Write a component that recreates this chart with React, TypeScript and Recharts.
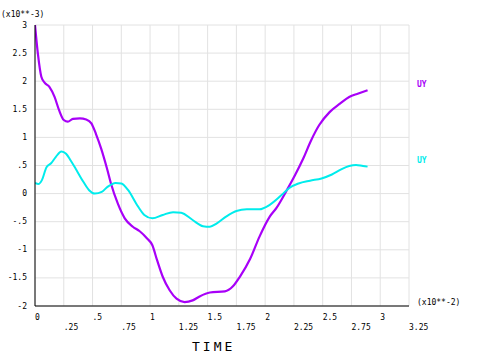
import React from 'react';
import { LineChart, Line, XAxis, YAxis, CartesianGrid } from 'recharts';

// time in units of 10**-2, displacement in units of 10**-3
const uyPurpleTime = [
  0, 0.025, 0.055, 0.085, 0.125, 0.17, 0.21, 0.25, 0.285, 0.33, 0.39, 0.445, 0.49, 0.53, 0.575, 0.625,
  0.66, 0.72, 0.78, 0.85, 0.91, 0.97, 1.02, 1.06, 1.11, 1.17, 1.23, 1.3, 1.37, 1.43, 1.52, 1.65, 1.72,
  1.78, 1.87, 1.95, 2.04, 2.1, 2.18, 2.26, 2.33, 2.4, 2.47, 2.56, 2.65, 2.73, 2.81, 2.89,
];
const uyPurpleValues = [
  3.0, 2.49, 2.08, 1.97, 1.9, 1.72, 1.48, 1.31, 1.28, 1.33, 1.34, 1.32, 1.25, 1.06, 0.8, 0.45,
  0.18, -0.18, -0.44, -0.59, -0.67, -0.79, -0.92, -1.18, -1.48, -1.72, -1.87, -1.93, -1.9, -1.83, -1.76, -1.74, -1.65,
  -1.48, -1.16, -0.77, -0.41, -0.25, 0.03, 0.33, 0.62, 0.95, 1.22, 1.45, 1.6, 1.72, 1.78, 1.84,
];

const uyCyanTime = [
  0, 0.03, 0.06, 0.1, 0.14, 0.18, 0.23, 0.27, 0.31, 0.36, 0.42, 0.47, 0.52, 0.58, 0.63, 0.7, 0.75,
  0.81, 0.88, 0.95, 1.02, 1.11, 1.2, 1.27, 1.37, 1.46, 1.52, 1.58, 1.66, 1.75, 1.84, 1.95, 2.04,
  2.14, 2.21, 2.29, 2.39, 2.49, 2.58, 2.66, 2.73, 2.79, 2.85, 2.89,
];
const uyCyanValues = [
  0.19, 0.17, 0.24, 0.47, 0.54, 0.65, 0.75, 0.71, 0.59, 0.42, 0.21, 0.06, 0.0, 0.03, 0.12, 0.19, 0.18,
  0.06, -0.18, -0.38, -0.44, -0.38, -0.33, -0.34, -0.47, -0.58, -0.59, -0.53, -0.41, -0.31, -0.28, -0.28, -0.2,
  -0.03, 0.1, 0.18, 0.23, 0.27, 0.34, 0.43, 0.49, 0.51, 0.49, 0.48,
];

const xTicks = [0, 0.25, 0.5, 0.75, 1, 1.25, 1.5, 1.75, 2, 2.25, 2.5, 2.75, 3, 3.25];
const xTickLabels = ['0', '.25', '.5', '.75', '1', '1.25', '1.5', '1.75', '2', '2.25', '2.5', '2.75', '3', '3.25'];
const yTicks = [-2, -1.5, -1, -0.5, 0, 0.5, 1, 1.5, 2, 2.5, 3];
const yTickLabels = ['-2', '-1.5', '-1', '-.5', '0', '.5', '1', '1.5', '2', '2.5', '3'];

const PURPLE = '#a800f8';
const CYAN = '#00ecec';
const FONT = '"DejaVu Sans Mono", monospace';

const purpleData = uyPurpleTime.map((t, i) => ({ t, v: uyPurpleValues[i] }));
const cyanData = uyCyanTime.map((t, i) => ({ t, v: uyCyanValues[i] }));

function XTick(props: any) {
  const { x, y, payload } = props;
  const idx = xTicks.indexOf(payload.value);
  const row = idx % 2 === 0 ? 3 : 13;
  return (
    <text x={x} y={y + row} textAnchor="start" dominantBaseline="central" fontSize={8} fontFamily={FONT} fill="#000">
      {xTickLabels[idx]}
    </text>
  );
}

function YTick(props: any) {
  const { x, y, payload } = props;
  const idx = yTicks.indexOf(payload.value);
  return (
    <text x={x} y={y} textAnchor="end" dominantBaseline="central" fontSize={8} fontFamily={FONT} fill="#000">
      {yTickLabels[idx]}
    </text>
  );
}

export default function App() {
  return (
    <div style={{ position: 'absolute', left: 0, top: 0, width: 478, height: 355, background: '#fff' }}>
      <LineChart width={478} height={355} margin={{ top: 25, right: 69, left: 0, bottom: 9 }}>
        <CartesianGrid stroke="#e2e2e2" strokeWidth={1} />
        <XAxis
          type="number"
          dataKey="t"
          domain={[0, 3.25]}
          ticks={xTicks}
          interval={0}
          height={40}
          tickLine={false}
          axisLine={{ stroke: '#000' }}
          tick={<XTick />}
          allowDataOverflow
        />
        <YAxis
          type="number"
          dataKey="v"
          domain={[-2, 3]}
          ticks={yTicks}
          interval={0}
          width={35}
          tickLine={false}
          axisLine={{ stroke: '#000' }}
          tick={<YTick />}
          allowDataOverflow
        />
        <Line data={purpleData} dataKey="v" type="monotone" stroke={PURPLE} strokeWidth={2.2} dot={false} isAnimationActive={false} />
        <Line data={cyanData} dataKey="v" type="monotone" stroke={CYAN} strokeWidth={2} dot={false} isAnimationActive={false} />
      </LineChart>
      <svg width={478} height={355} style={{ position: 'absolute', left: 0, top: 0, pointerEvents: 'none' }}>
        <text x={1} y={14} fontSize={8} fontFamily={FONT} dominantBaseline="central" fill="#000">(x10**-3)</text>
        <text x={417} y={302} fontSize={8} fontFamily={FONT} dominantBaseline="central" fill="#000">(x10**-2)</text>
        <text x={417} y={84} fontSize={8} fontFamily={FONT} dominantBaseline="central" fill={PURPLE} fontWeight="bold">UY</text>
        <text x={417} y={160} fontSize={8} fontFamily={FONT} dominantBaseline="central" fill={CYAN} fontWeight="bold">UY</text>
        <text x={192} y={346} fontSize={13} fontFamily={FONT} letterSpacing={3} dominantBaseline="central" fill="#000">TIME</text>
      </svg>
    </div>
  );
}
